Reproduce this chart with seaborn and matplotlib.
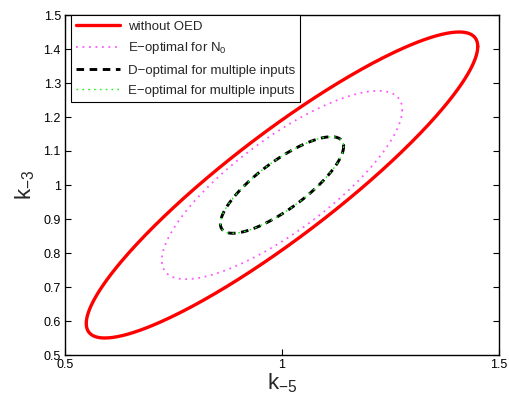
import numpy as np
import pandas as pd
import seaborn as sns
import matplotlib
matplotlib.use("Agg")
import matplotlib.pyplot as plt

# Confidence-ellipse parameters
labels = ["without OED", "E\u2212optimal for N$_0$",
          "D\u2212optimal for multiple inputs", "E\u2212optimal for multiple inputs"]
center_x = [1.0, 1.0, 1.0, 1.0]
center_y = [1.0, 1.0, 1.0, 1.0]
half_x = [0.451, 0.277, 0.142, 0.142]
half_y = [0.450, 0.277, 0.142, 0.142]
corr = [0.905, 0.80, 0.80, 0.80]

x_ticks = [0.5, 1, 1.5]
y_ticks = [0.5, 0.6, 0.7, 0.8, 0.9, 1.0, 1.1, 1.2, 1.3, 1.4, 1.5]

colors = ["#ff0000", "#ff55ff", "#000000", "#22ee22"]
widths = [2.4, 1.3, 2.1, 1.0]
styles = ["-", (0, (1.0, 2.6)), (0, (2.6, 1.9)), (0, (1.2, 3.0))]

sns.set_theme(style="ticks")
plt.rcParams["font.family"] = ["Liberation Sans", "DejaVu Sans"]
plt.rcParams["mathtext.fontset"] = "custom"
plt.rcParams["mathtext.rm"] = "Liberation Sans"
plt.rcParams["mathtext.it"] = "Liberation Sans"

fig = plt.figure(figsize=(5.09, 3.98), dpi=100)
ax = fig.add_axes([65 / 509, 1 - 355 / 398, 434 / 509, 340 / 398])

t = np.linspace(0, 2 * np.pi, 400)
for i in range(4):
    phi = np.arccos(corr[i])
    xs = center_x[i] + half_x[i] * np.cos(t)
    ys = center_y[i] + half_y[i] * np.cos(t + phi)
    df = pd.DataFrame({"x": xs, "y": ys})
    sns.lineplot(data=df, x="x", y="y", sort=False, estimator=None, ax=ax,
                 color=colors[i], linewidth=widths[i], linestyle=styles[i],
                 label=labels[i])

ax.set_xlim(0.5, 1.5)
ax.set_ylim(0.5, 1.5)
ax.set_xticks(x_ticks)
ax.set_xticklabels(["0.5", "1", "1.5"])
ax.set_yticks(y_ticks)
ax.set_yticklabels(["0.5", "0.6", "0.7", "0.8", "0.9", "1", "1.1", "1.2", "1.3", "1.4", "1.5"])
ax.tick_params(direction="in", length=4, width=0.8, labelsize=9, colors="black",
               top=True, right=True, pad=3)
for s in ax.spines.values():
    s.set_visible(True)
    s.set_color("black")
    s.set_linewidth(1.0)

ax.set_xlabel("k$_{-5}$", fontsize=16, labelpad=0)
ax.set_ylabel("k$_{-3}$", fontsize=16, labelpad=5)

leg = ax.legend(loc="upper left", bbox_to_anchor=(0.014, 1.0), fontsize=9.5,
                frameon=True, fancybox=False, edgecolor="black", framealpha=1,
                handlelength=3.3, handletextpad=0.6, borderpad=0.4,
                labelspacing=0.6, borderaxespad=0.0)
leg.get_frame().set_linewidth(0.8)

fig.savefig("out.png", dpi=100)
